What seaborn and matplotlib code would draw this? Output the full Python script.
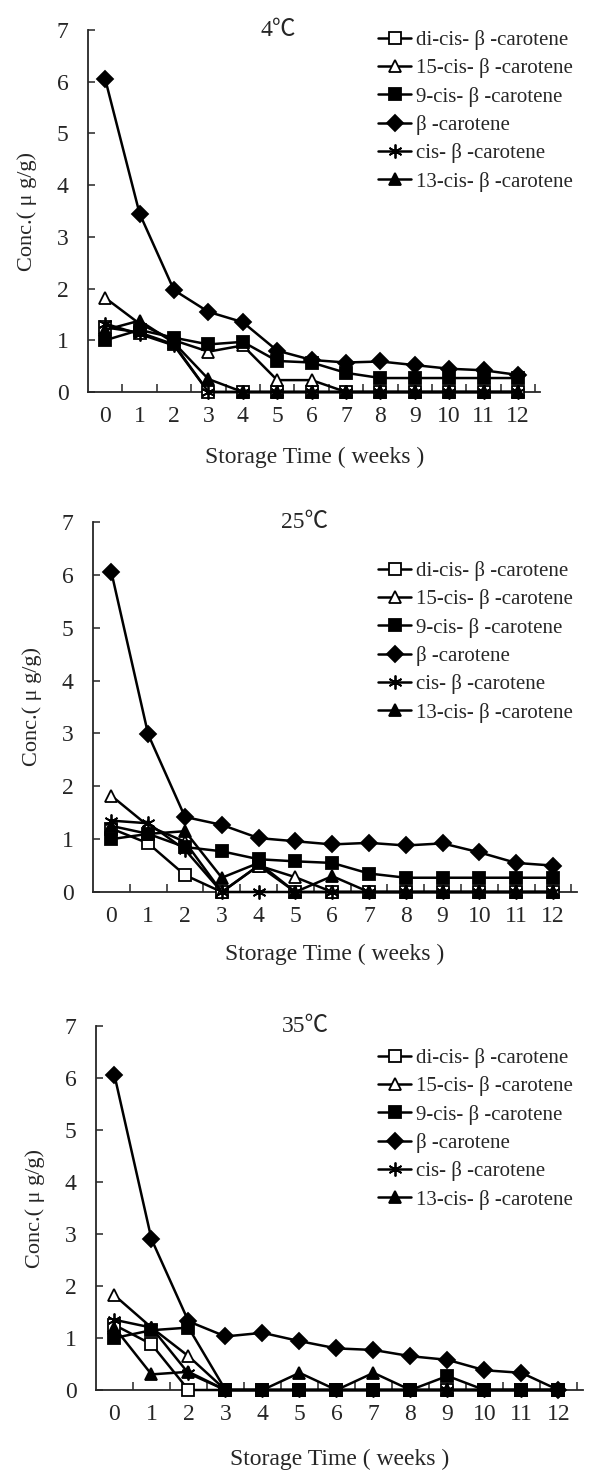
import numpy as np
import pandas as pd
import matplotlib
matplotlib.use("Agg")
import matplotlib.pyplot as plt
import seaborn as sns

weeks = list(range(13))
series_names = ["di-cis- β -carotene", "15-cis- β -carotene", "9-cis- β -carotene",
                "β -carotene", "cis- β -carotene", "13-cis- β -carotene"]
temps = ["4℃", "25℃", "35℃"]

# 4 C
di_cis_4 = [1.25, 1.15, 0.92, 0.0, 0.0, 0.0, 0.0, 0.0, 0.0, 0.0, 0.0, 0.0, 0.0]
cis15_4 = [1.82, 1.32, 1.0, 0.78, 0.9, 0.23, 0.23, 0.0, 0.0, 0.0, 0.0, 0.0, 0.0]
cis9_4 = [1.0, 1.2, 1.05, 0.92, 0.97, 0.6, 0.57, 0.37, 0.27, 0.27, 0.27, 0.27, 0.27]
beta_4 = [6.05, 3.45, 1.97, 1.55, 1.35, 0.8, 0.62, 0.57, 0.59, 0.52, 0.45, 0.42, 0.33]
cis_4 = [1.32, 1.12, 0.9, 0.0, 0.0, 0.0, 0.0, 0.0, 0.0, 0.0, 0.0, 0.0, 0.0]
cis13_4 = [1.2, 1.38, 0.95, 0.25, 0.0, 0.0, 0.0, 0.0, 0.0, 0.0, 0.0, 0.0, 0.0]

# 25 C
di_cis_25 = [1.2, 0.92, 0.32, 0.0, 0.5, 0.0, 0.0, 0.0, 0.0, 0.0, 0.0, 0.0, 0.0]
cis15_25 = [1.82, 1.25, 0.95, 0.0, 0.5, 0.28, 0.0, 0.0, 0.0, 0.0, 0.0, 0.0, 0.0]
cis9_25 = [1.0, 1.1, 0.85, 0.77, 0.62, 0.58, 0.55, 0.35, 0.27, 0.27, 0.27, 0.27, 0.27]
beta_25 = [6.05, 2.98, 1.42, 1.27, 1.02, 0.96, 0.9, 0.93, 0.88, 0.92, 0.75, 0.55, 0.5]
cis_25 = [1.35, 1.3, 0.8, 0.0, 0.0, 0.0, 0.0, 0.0, 0.0, 0.0, 0.0, 0.0, 0.0]
cis13_25 = [1.25, 1.1, 1.15, 0.27, 0.55, 0.0, 0.3, 0.0, 0.0, 0.0, 0.0, 0.0, 0.0]

# 35 C
di_cis_35 = [1.25, 0.88, 0.0, 0.0, 0.0, 0.0, 0.0, 0.0, 0.0, 0.0, 0.0, 0.0, 0.0]
cis15_35 = [1.82, 1.2, 0.65, 0.0, 0.0, 0.0, 0.0, 0.0, 0.0, 0.0, 0.0, 0.0, 0.0]
cis9_35 = [1.0, 1.15, 1.2, 0.0, 0.0, 0.0, 0.0, 0.0, 0.0, 0.27, 0.0, 0.0, 0.0]
beta_35 = [6.05, 2.9, 1.32, 1.03, 1.1, 0.94, 0.8, 0.77, 0.65, 0.58, 0.38, 0.33, 0.0]
cis_35 = [1.35, 1.2, 0.32, 0.0, 0.0, 0.0, 0.0, 0.0, 0.0, 0.0, 0.0, 0.0, 0.0]
cis13_35 = [1.2, 0.3, 0.35, 0.0, 0.0, 0.33, 0.0, 0.33, 0.0, 0.0, 0.0, 0.0, 0.0]

panels = [
    [di_cis_4, cis15_4, cis9_4, beta_4, cis_4, cis13_4],
    [di_cis_25, cis15_25, cis9_25, beta_25, cis_25, cis13_25],
    [di_cis_35, cis15_35, cis9_35, beta_35, cis_35, cis13_35],
]

sns.set_style("ticks")
plt.rcParams['font.family'] = ['Liberation Serif', 'Noto Sans CJK TC', 'DejaVu Sans']

W, H = 607, 1473
fig = plt.figure(figsize=(W / 100, H / 100), dpi=100)

styles = [
    dict(marker='s', mfc='white', mec='black'),
    dict(marker='^', mfc='white', mec='black'),
    dict(marker='s', mfc='black', mec='black'),
    dict(marker='D', mfc='black', mec='black'),
    dict(marker=(6, 2, 0), mfc='black', mec='black'),
    dict(marker='^', mfc='black', mec='black'),
]
msizes = [8, 9, 8, 8, 10, 9]
zorders = [3, 3, 6, 5, 4, 4]

# axes geometry in pixels
geoms = [
    dict(left=88, y0=392, y7=30, dx=34.4, title_x=278, leg_x=378, leg_y=30, xlab_pad=14),
    dict(left=93, y0=892, y7=522, dx=36.8, title_x=305, leg_x=378, leg_y=561, xlab_pad=12),
    dict(left=96, y0=1390, y7=1026, dx=37.0, title_x=305, leg_x=378, leg_y=1048, xlab_pad=17),
]
xmin, xmax = -0.5, 12.65

for p, (g, data, temp) in enumerate(zip(geoms, panels, temps)):
    width_px = (xmax - xmin) * g['dx']
    ax = fig.add_axes([g['left'] / W, 1 - g['y0'] / H, width_px / W, (g['y0'] - g['y7']) / H])
    rows = []
    for name, vals in zip(series_names, data):
        for w, v in zip(weeks, vals):
            rows.append(dict(week=w, conc=v, series=name))
    df = pd.DataFrame(rows)
    for i, name in enumerate(series_names):
        sub = df[df['series'] == name]
        sns.lineplot(data=sub, x='week', y='conc', ax=ax, color='black', lw=1.8,
                     markersize=msizes[i], mew=1.3, label=name, clip_on=False,
                     zorder=zorders[i], **styles[i])
    ax.set_xlim(xmin, xmax)
    ax.set_ylim(0, 7)
    ax.set_xticks(weeks)
    ax.set_xticks(np.arange(0.5, 12.6, 1.0), minor=True)
    ax.tick_params(axis='x', which='major', length=0, labelsize=17, pad=10)
    ax.tick_params(axis='x', which='minor', direction='in', length=6, width=1.1)
    ax.set_yticks(range(0, 8))
    ax.tick_params(axis='y', direction='in', length=5, width=1.1, labelsize=17, pad=14)
    for s in ['top', 'right']:
        ax.spines[s].set_visible(False)
    for s in ['left', 'bottom']:
        ax.spines[s].set_linewidth(1.3)
    ax.set_xlabel("Storage Time ( weeks )", fontsize=17, labelpad=g['xlab_pad'])
    ax.set_ylabel("Conc.( μ g/g)", fontsize=16, labelpad=14)
    ax.text((g['title_x'] - g['left']) / width_px, 1.0, temp, transform=ax.transAxes,
            ha='center', va='center', fontsize=17)
    leg = ax.legend(loc='upper left', bbox_to_anchor=(g['leg_x'] / W, 1 - g['leg_y'] / H),
                    bbox_transform=fig.transFigure, frameon=False, fontsize=15,
                    handlelength=1.6, handletextpad=0.2, labelspacing=0.4,
                    borderpad=0, borderaxespad=0)

fig.savefig("out.png", dpi=100)
